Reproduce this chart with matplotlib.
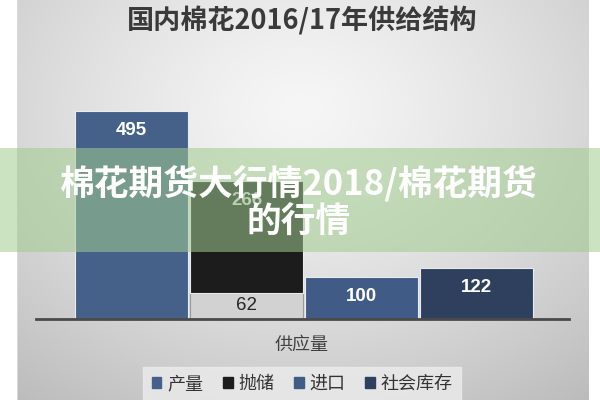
import numpy as np
import matplotlib
matplotlib.use("Agg")
import matplotlib.pyplot as plt
from matplotlib.patches import Rectangle

plt.rcParams['font.family'] = ['Noto Sans CJK SC', 'DejaVu Sans']

# ---- data ----
categories = ['产量', '抛储', '进口', '社会库存']
values = [495, 266, 100, 122]
base_values = [0, 62, 0, 0]          # grey segment under 抛储
title = '国内棉花2016/17年供给结构'
xlabel = '供应量'
banner_lines = ['棉花期货大行情2018/棉花期货', '的行情']

colors = ['#456189', '#1c1c1c', '#3f5b86', '#2f405e']
label_colors = ['white', '#d8d8d8', 'white', 'white']
base_color = '#d2d2d2'

W, H = 600, 400
fig = plt.figure(figsize=(6, 4), dpi=100)
fig.patch.set_facecolor('white')

# background gradient panel
bg = fig.add_axes([0, 0, 1, 1], zorder=0)
yy, xx = np.mgrid[0:H, 0:W]
d = np.sqrt(((xx - 300) / 420.0) ** 2 + ((yy - 110) / 330.0) ** 2)
val = np.clip(0.965 - 0.20 * d ** 1.3, 0.72, 1)
img = np.dstack([val, val, val])
img[:, :18] = 1.0
img[:, 589:] = 1.0
img[:, 17] = 0.85
bg.imshow(img, extent=[0, W, H, 0], aspect='auto')
bg.set_xlim(0, W); bg.set_ylim(H, 0)
bg.axis('off')

# main axes
ax = fig.add_axes([36 / W, 81 / H, 533 / W, 0.63], zorder=2)
ax.patch.set_alpha(0)
x = np.arange(len(categories))
bars_base = ax.bar(x, base_values, width=0.98, color=base_color,
                   edgecolor='#9a9a9a', linewidth=0.8)
bars = ax.bar(x, values, width=0.98, bottom=base_values, color=colors,
              edgecolor='#e8ecf2', linewidth=0.8)
ax.set_xlim(-0.83, 3.80)
ax.set_ylim(0, 600)
for s in ['top', 'right', 'left']:
    ax.spines[s].set_visible(False)
ax.spines['bottom'].set_color('#4a4a4a')
ax.spines['bottom'].set_linewidth(2)
ax.set_xticks([]); ax.set_yticks([])

for xi, v, b, lc in zip(x, values, base_values, label_colors):
    ax.annotate(str(v), (xi, v + b), xytext=(0, -14), textcoords='offset points',
                ha='center', va='center', fontsize=13.5, fontweight='bold',
                color=lc, family=['Liberation Sans', 'DejaVu Sans'])
for xi, b in zip(x, base_values):
    if b:
        ax.text(xi, b / 2, str(b), ha='center', va='center', fontsize=13.5,
                color='#262626', family=['Liberation Sans', 'DejaVu Sans'])

# title and x label
fig.text(302 / W, 1 - 20 / H, title, ha='center', va='center', fontsize=19.5,
         fontweight='heavy', color='#3a3a3a', zorder=3)
fig.text(302 / W, 1 - 345 / H, xlabel, ha='center', va='center', fontsize=13,
         color='#404040', zorder=3)

# legend
handles = [Rectangle((0, 0), 1, 1, color=c) for c in colors]
leg = fig.legend(handles, categories, loc='center', bbox_to_anchor=(302 / W, 1 - 384 / H),
                 ncol=4, frameon=True, fontsize=13, handlelength=0.55, handleheight=0.55,
                 handletextpad=0.3, columnspacing=1.1, borderpad=0.45, fancybox=False)
leg.get_frame().set_facecolor('#ececec')
leg.get_frame().set_edgecolor('#ececec')
for t in leg.get_texts():
    t.set_color('#333333')
leg.set_zorder(3)

# green banner overlay
ov = fig.add_axes([0, 0, 1, 1], zorder=5)
ov.set_xlim(0, W); ov.set_ylim(H, 0); ov.axis('off')
ov.patch.set_alpha(0)
ov.add_patch(Rectangle((0, 148), W, 104, facecolor=(0.63, 0.80, 0.56), alpha=0.55,
                       edgecolor='none'))
ov.text(299, 183, banner_lines[0], ha='center', va='center', fontsize=25,
        fontweight='heavy', color='white')
ov.text(299, 222, banner_lines[1], ha='center', va='center', fontsize=25,
        fontweight='heavy', color='white')

fig.savefig('out.png', dpi=100)
